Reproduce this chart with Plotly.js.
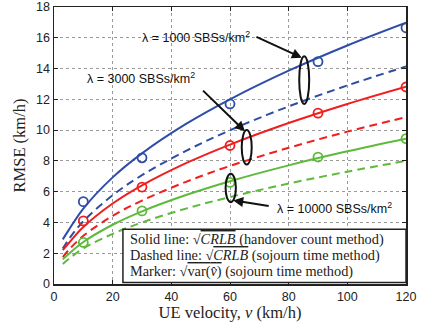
<!DOCTYPE html>
<html><head><meta charset="utf-8">
<script src="https://cdn.plot.ly/plotly-3.0.1.min.js"></script>
<style>html,body{margin:0;padding:0;background:#fff;}</style>
</head><body><div id="chart" style="width:421px;height:328px;"></div>
<script>
const vLine = [3, 5, 10, 20, 30, 45, 60, 80, 100, 120];
const blueSolid  = [2.9, 3.5, 4.9, 6.93, 8.49, 10.4, 12.0, 13.86, 15.5, 16.98];
const blueDashed = [2.3, 2.9, 4.08, 5.77, 7.07, 8.65, 9.99, 11.54, 12.9, 14.13];
const redSolid   = [2.2, 2.65, 3.7, 5.23, 6.41, 7.85, 9.06, 10.46, 11.7, 12.82];
const redDashed  = [1.75, 2.21, 3.13, 4.43, 5.42, 6.64, 7.67, 8.85, 9.9, 10.84];
const greenSolid = [1.6, 1.95, 2.73, 3.85, 4.72, 5.78, 6.68, 7.71, 8.62, 9.44];
const greenDashed= [1.3, 1.63, 2.31, 3.26, 4.0, 4.9, 5.65, 6.53, 7.3, 8.0];
const vMarker = [10, 30, 60, 90, 120];
const blueMarker  = [5.35, 8.2, 11.7, 14.45, 16.65];
const redMarker   = [4.1, 6.3, 9.0, 11.1, 12.8];
const greenMarker = [2.7, 4.75, 6.6, 8.25, 9.45];
const xTicks = [0, 20, 40, 60, 80, 100, 120];
const yTicks = [0, 2, 4, 6, 8, 10, 12, 14, 16, 18];

const BLUE = '#2f4da6', RED = '#f01e1e', GREEN = '#5dba3a';
const dash = '8px,5px';
function line(y, color, dashed) {
  return {x: vLine, y: y, mode: 'lines', line: {color: color, width: 2, shape: 'spline', dash: dashed ? dash : 'solid'}, hoverinfo: 'skip'};
}
function mk(y, color) {
  return {x: vMarker, y: y, mode: 'markers', marker: {symbol: 'circle-open', size: 9, color: color, line: {width: 1.8, color: color}}};
}
const data = [
  line(blueSolid, BLUE, false), line(blueDashed, BLUE, true),
  line(redSolid, RED, false), line(redDashed, RED, true),
  line(greenSolid, GREEN, false), line(greenDashed, GREEN, true),
  mk(blueMarker, BLUE), mk(redMarker, RED), mk(greenMarker, GREEN)
];

const sans = 'Liberation Sans, Arial, sans-serif';
const serif = 'Liberation Serif, DejaVu Serif, serif';
const ellipse = (x0, x1, y0, y1) => ({type: 'circle', xref: 'x', yref: 'y', x0: x0, x1: x1, y0: y0, y1: y1, line: {color: '#111', width: 2}});
const arrow = (tx, ty, hx, hy) => ({x: hx, y: hy, ax: tx, ay: ty, xref: 'x', yref: 'y', axref: 'x', ayref: 'y', text: '', showarrow: true, arrowhead: 2, arrowsize: 1, arrowwidth: 2, arrowcolor: '#111'});
const label = (x, y, t) => ({x: x, y: y, xref: 'x', yref: 'y', text: t, showarrow: false, font: {family: sans, size: 12.5, color: '#111'}});
const leg = (y, t) => ({x: 25.3, y: y, xref: 'x', yref: 'y', xanchor: 'left', text: t, showarrow: false, font: {family: serif, size: 14.3, color: '#222'}});
const ov = s => '<span style="text-decoration:overline">' + s + '</span>';

const axisCommon = {showgrid: true, gridcolor: '#9a9a9a', griddash: 'dot', gridwidth: 1,
  showline: true, linecolor: '#222', linewidth: 1.5, mirror: 'ticks', ticks: 'inside', ticklen: 4, tickcolor: '#222',
  zeroline: false, tickfont: {family: sans, size: 12.5, color: '#222'}, tickmode: 'array', ticklabeloverflow: 'allow'};

const layout = {
  width: 421, height: 328,
  margin: {l: 54, r: 15, t: 7, b: 44},
  paper_bgcolor: '#fff', plot_bgcolor: '#fff',
  showlegend: false,
  xaxis: Object.assign({}, axisCommon, {range: [0, 120], tickvals: xTicks, ticktext: xTicks.map(String),
    title: {text: 'UE velocity, <i>v</i> (km/h)', font: {family: serif, size: 16.5, color: '#222'}, standoff: 3}}),
  yaxis: Object.assign({}, axisCommon, {range: [0, 18], tickvals: yTicks, ticktext: yTicks.map(String),
    title: {text: 'RMSE (km/h)', font: {family: serif, size: 16.5, color: '#222'}, standoff: 6}}),
  shapes: [
    ellipse(83.6, 87.0, 11.7, 14.8),
    ellipse(64.0, 67.4, 7.76, 10.0),
    ellipse(58.5, 62.0, 5.32, 7.16),
    {type: 'rect', xref: 'x', yref: 'y', x0: 23.5, x1: 120, y0: 0.1, y1: 3.56, fillcolor: '#fff', line: {color: '#222', width: 1.5}}
  ],
  annotations: [
    arrow(68.5, 16.1, 84.5, 14.7),
    arrow(50.3, 12.66, 65.1, 9.92),
    arrow(73.7, 5.05, 61.1, 5.43),
    label(48.5, 16.04, 'λ = 1000 SBSs/km<sup>2</sup>'),
    label(29.7, 13.37, 'λ = 3000 SBSs/km<sup>2</sup>'),
    label(95.5, 4.96, 'λ = 10000 SBSs/km<sup>2</sup>'),
    leg(2.89, 'Solid line: √' + ov('<i>CRLB</i>') + ' (handover count method)'),
    leg(1.86, 'Dashed line: √' + ov('<i>CRLB</i>') + ' (sojourn time method)'),
    leg(0.84, 'Marker: √' + ov('var(<i>v̂</i>)') + ' (sojourn time method)')
  ]
};
Plotly.newPlot('chart', data, layout, {displayModeBar: false, staticPlot: true});
</script></body></html>
